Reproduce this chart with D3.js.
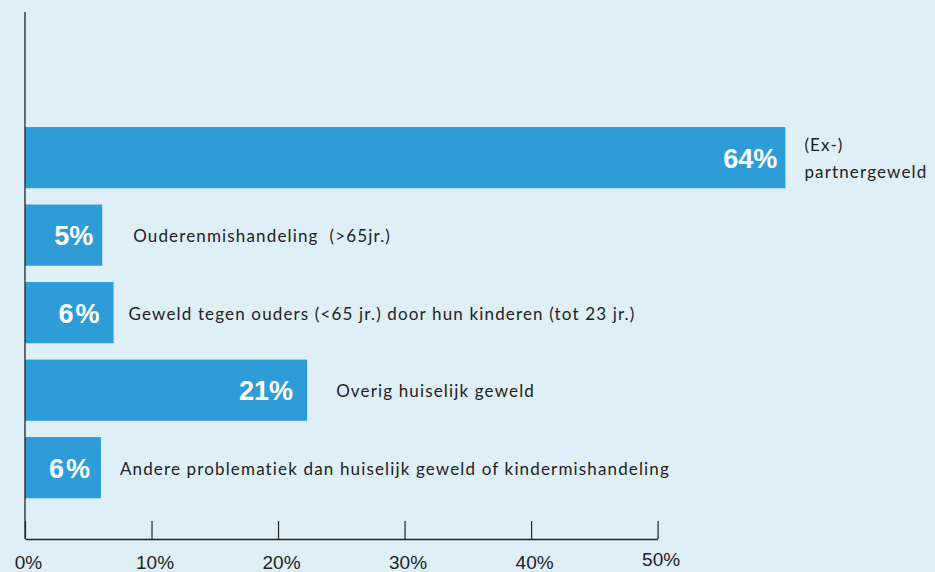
<!DOCTYPE html>
<html>
<head>
<meta charset="utf-8">
<script src="https://cdn.jsdelivr.net/npm/d3@7"></script>
<style>
  html, body { margin: 0; padding: 0; background: #dfeff8; }
  svg { display: block; }
  text.cat { white-space: pre; }
</style>
</head>
<body>
<div id="chart"></div>
<script>
// categories (label lines) and values as printed on the bars
const categories = [
  ['(Ex-)', 'partnergeweld'],
  ['Ouderenmishandeling  (>65jr.)'],
  ['Geweld tegen ouders (<65 jr.) door hun kinderen (tot 23 jr.)'],
  ['Overig huiselijk geweld'],
  ['Andere problematiek dan huiselijk geweld of kindermishandeling']
];
const percentLabels = [64, 5, 6, 21, 6];
// bar lengths as drawn, read against the x axis (%)
const barLengths = [60.1, 6.1, 7.0, 22.3, 6.0];
const xTicks = [0, 10, 20, 30, 40, 50];

const width = 935, height = 572;
const x0 = 25, axisY = 539;

const svg = d3.select('#chart')
  .append('svg')
  .attr('width', width)
  .attr('height', height);

svg.append('rect')
  .attr('width', width)
  .attr('height', height)
  .attr('fill', '#dfeff8');

// Scales
const x = d3.scaleLinear()
  .domain([0, 50])
  .range([x0, 657.6]);

const y = d3.scaleBand()
  .domain(d3.range(categories.length))
  .range([118.5, 506.8])
  .paddingInner(0.21)
  .paddingOuter(0.11);

// Bars
svg.selectAll('rect.bar')
  .data(barLengths)
  .enter()
  .append('rect')
  .attr('class', 'bar')
  .attr('x', x(0))
  .attr('y', (d, i) => y(i))
  .attr('width', d => x(d) - x(0))
  .attr('height', y.bandwidth())
  .attr('fill', '#2e9cd7');

// Percentage labels inside bars
const valueInset = [8, 9, 12, 14, 9];
svg.selectAll('text.value')
  .data(percentLabels)
  .enter()
  .append('text')
  .attr('class', 'value')
  .attr('x', (d, i) => x(barLengths[i]) - valueInset[i])
  .attr('y', (d, i) => y(i) + y.bandwidth() / 2 + 10)
  .attr('text-anchor', 'end')
  .attr('fill', '#fff')
  .style('font-family', 'Liberation Sans, Arial, sans-serif')
  .style('font-weight', 'bold')
  .style('font-size', '27px')
  .style('letter-spacing', (d, i) => (percentLabels[i] === 6 ? '2px' : '0px'))
  .text(d => d + '%');

// Category labels to the right of bars
const labelGap = [19, 31, 15, 29, 19];
const labels = svg.selectAll('text.cat')
  .data(categories)
  .enter()
  .append('text')
  .attr('class', 'cat')
  .attr('fill', '#222')
  .style('font-family', 'Lato, sans-serif')
  .style('font-size', '17px')
  .style('letter-spacing', '1.15px')
  .attr('x', (d, i) => x(barLengths[i]) + labelGap[i])
  .attr('y', (d, i) => y(i) + y.bandwidth() / 2 + 7 - (d.length - 1) * 13.5);

labels.selectAll('tspan')
  .data(d => d)
  .enter()
  .append('tspan')
  .attr('x', function () { return d3.select(this.parentNode).attr('x'); })
  .attr('dy', (d, i) => (i === 0 ? 0 : 27))
  .text(d => d);

// Y axis line
svg.append('line')
  .attr('x1', x0).attr('x2', x0)
  .attr('y1', 12).attr('y2', axisY)
  .attr('stroke', '#222')
  .attr('stroke-width', 1.3);

// X axis
const xAxis = svg.append('g')
  .attr('transform', `translate(0,${axisY})`)
  .call(d3.axisBottom(x)
    .tickValues(xTicks)
    .tickSizeInner(-18)
    .tickSizeOuter(0)
    .tickPadding(20)
    .tickFormat(d => d + '%'));

xAxis.select('.domain').attr('stroke', '#222').attr('stroke-width', 1.3);
xAxis.selectAll('.tick line').attr('stroke', '#222').attr('stroke-width', 1.2);
xAxis.selectAll('.tick text')
  .attr('fill', '#222')
  .attr('dx', 3)
  .attr('dy', (d, i) => (i === xTicks.length - 1 ? '0.35em' : '0.55em'))
  .style('font-family', 'Liberation Sans, Arial, sans-serif')
  .style('font-size', '19px');
</script>
</body>
</html>
